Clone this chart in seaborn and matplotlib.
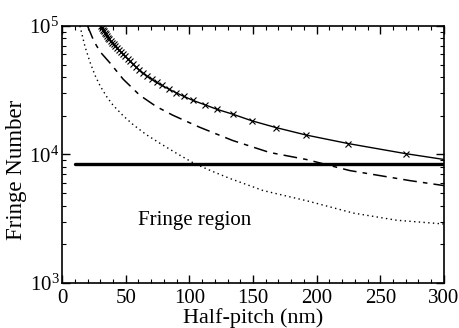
import numpy as np
import pandas as pd
import matplotlib
matplotlib.use("Agg")
import matplotlib.pyplot as plt
import seaborn as sns
from matplotlib.ticker import LogLocator, MultipleLocator, NullFormatter

# ---- data ----
# solid curve with 'x' markers (markers at every point except the last)
solid_x = [30.3, 31.1, 31.8, 32.6, 33.4, 34.2, 35.1, 36.1, 37.1, 38.2, 39.3, 40.5,
           41.8, 43.1, 44.5, 46.1, 47.7, 49.5, 51.4, 53.5, 55.7, 58.1, 60.8, 63.7,
           66.9, 70.4, 74.3, 78.7, 83.7, 89.3, 95.7, 103, 112, 122, 134, 149, 168,
           192, 225, 270, 300]
solid_f = [99000, 96000, 93500, 91000, 88500, 86000, 83500, 81000, 78500, 76200, 74000, 71800,
           69500, 67300, 65000, 62800, 60500, 58000, 55500, 53000, 50500, 47800, 45200, 42800,
           40600, 38500, 36300, 34400, 32300, 30300, 28300, 26300, 24400, 22400, 20600, 18300, 16200,
           14150, 12150, 10150, 9150]

dashdot_x = [20, 25, 30, 37.7, 48, 61, 74, 87, 108, 134, 163, 192, 226, 273, 300]
dashdot_f = [100000, 76000, 62700, 51400, 38500, 28900, 23600, 20200, 16300, 12850, 10370,
             9140, 7500, 6270, 5730]

dotted_x = [14, 18, 22, 26, 30, 35, 40, 48, 56, 66, 77, 90, 104, 118, 132, 158, 192, 229,
            263, 300]
dotted_f = [100000, 69000, 52000, 41000, 34000, 28200, 24200, 20000, 17000, 14300, 12200,
            10200, 8500, 7400, 6500, 5240, 4370, 3500, 3080, 2880]

hline_x = [10, 300]
hline_f = [8400, 8400]

x_label = "Half-pitch (nm)"
y_label = "Fringe Number"
region_text = "Fringe region"

# ---- style ----
sns.set_theme(style="ticks")
plt.rcParams["font.family"] = ["Liberation Serif", "DejaVu Serif"]
plt.rcParams["mathtext.fontset"] = "custom"
plt.rcParams["mathtext.rm"] = "Liberation Serif"
plt.rcParams["mathtext.it"] = "Liberation Serif:italic"
plt.rcParams["mathtext.bf"] = "Liberation Serif:bold"
plt.rcParams["text.color"] = "black"
plt.rcParams["axes.labelcolor"] = "black"
plt.rcParams["xtick.color"] = "black"
plt.rcParams["ytick.color"] = "black"

fig = plt.figure(figsize=(4.6, 3.28), dpi=100)
ax = fig.add_axes([0.135, 0.137, 0.830, 0.784])

df_s = pd.DataFrame({"x": solid_x, "f": solid_f})
df_d = pd.DataFrame({"x": dashdot_x, "f": dashdot_f})
df_o = pd.DataFrame({"x": dotted_x, "f": dotted_f})
df_h = pd.DataFrame({"x": hline_x, "f": hline_f})

sns.lineplot(data=df_s, x="x", y="f", ax=ax, color="black", linewidth=1.0,
             sort=False, estimator=None)
ln = ax.lines[-1]
ln.set_marker("x")
ln.set_markersize(4.5)
ln.set_markeredgewidth(0.8)
ln.set_markeredgecolor("black")
ln.set_markerfacecolor("black")
ln.set_markevery(list(range(len(solid_x) - 1)))

sns.lineplot(data=df_d, x="x", y="f", ax=ax, color="black", linewidth=1.1,
             sort=False, estimator=None)
ax.lines[-1].set_dashes((9, 4, 3, 4))

sns.lineplot(data=df_o, x="x", y="f", ax=ax, color="black", linewidth=1.0,
             sort=False, estimator=None)
ax.lines[-1].set_linestyle((0, (1, 2.4)))

sns.lineplot(data=df_h, x="x", y="f", ax=ax, color="black", linewidth=2.4,
             sort=False, estimator=None)

ax.set_yscale("log")
ax.set_xlim(0, 300)
ax.set_ylim(1e3, 1e5)

ax.xaxis.set_major_locator(MultipleLocator(50))
ax.xaxis.set_minor_locator(MultipleLocator(10))
ax.yaxis.set_major_locator(LogLocator(base=10, numticks=5))
ax.yaxis.set_minor_locator(LogLocator(base=10, subs=np.arange(2, 10), numticks=20))
ax.yaxis.set_minor_formatter(NullFormatter())

ax.tick_params(which="both", direction="in", top=True, right=True, colors="black",
               labelcolor="black")
ax.tick_params(which="major", length=6, width=1.0)
ax.tick_params(which="minor", length=3, width=0.8)
ax.tick_params(axis="x", labelsize=15, pad=4)
ax.tick_params(axis="y", labelsize=15, pad=2)

for s in ax.spines.values():
    s.set_color("black")
    s.set_linewidth(1.2)

ax.set_xlabel(x_label, fontsize=16, labelpad=0, color="black")
ax.set_ylabel(y_label, fontsize=16.5, color="black")
ax.yaxis.set_label_coords(-0.092, 0.44)

ax.text(104, 3050, region_text, fontsize=15, ha="center", va="center", color="black")

fig.savefig("out.png", dpi=100)
